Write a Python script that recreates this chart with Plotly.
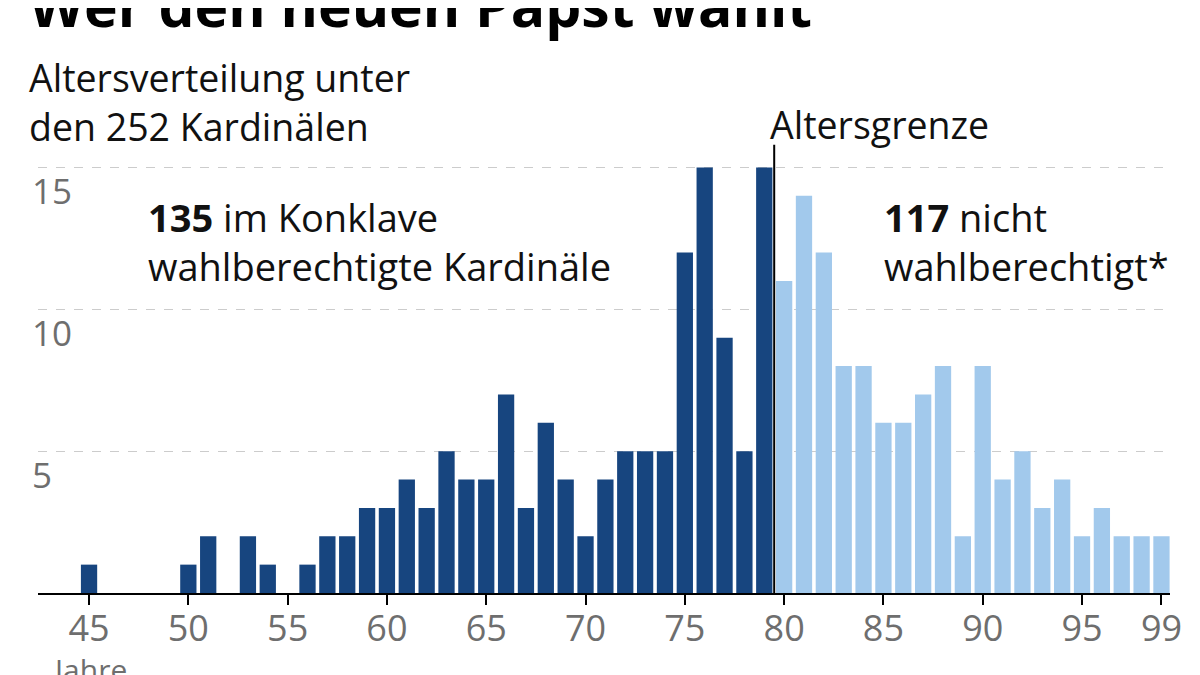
import plotly.graph_objects as go

# Kardinäle nach Alter (Stand: Konklave)
ages_voting = [45, 46, 47, 48, 49, 50, 51, 52, 53, 54, 55, 56, 57, 58, 59, 60, 61, 62,
               63, 64, 65, 66, 67, 68, 69, 70, 71, 72, 73, 74, 75, 76, 77, 78, 79]
count_voting = [1, 0, 0, 0, 0, 1, 2, 0, 2, 1, 0, 1, 2, 2, 3, 3, 4, 3,
                5, 4, 4, 7, 3, 6, 4, 2, 4, 5, 5, 5, 12, 15, 9, 5, 15]

ages_nonvoting = [80, 81, 82, 83, 84, 85, 86, 87, 88, 89,
                  90, 91, 92, 93, 94, 95, 96, 97, 98, 99]
count_nonvoting = [11, 14, 12, 8, 8, 6, 6, 7, 8, 2,
                   8, 4, 5, 3, 4, 2, 3, 2, 2, 2]

x_ticks = [45, 50, 55, 60, 65, 70, 75, 80, 85, 90, 95, 99]
y_ticks = [5, 10, 15]
age_limit = 79.5

DARK = "#17457f"
LIGHT = "#a2c9ec"
GREY = "#6e6e6e"
FONT = "Open Sans"

fig = go.Figure()
fig.add_trace(go.Bar(x=ages_voting, y=count_voting, marker=dict(color=DARK, line=dict(width=0)),
                     name="wahlberechtigt", hoverinfo="x+y"))
fig.add_trace(go.Bar(x=ages_nonvoting, y=count_nonvoting, marker=dict(color=LIGHT, line=dict(width=0)),
                     name="nicht wahlberechtigt", hoverinfo="x+y"))

# Altersgrenze
fig.add_shape(type="line", xref="x", yref="y", x0=age_limit, x1=age_limit, y0=0, y1=15.8,
              line=dict(color="black", width=2), layer="above")

ann = [
    dict(text="<b>Wer den neuen Papst wählt</b>", x=-0.010, y=1.204, xanchor="left", yanchor="bottom",
         font=dict(size=57, color="black")),
    dict(text="Altersverteilung unter<br>den 252 Kardinälen", x=-0.010, y=1.197, xanchor="left",
         yanchor="top", align="left", font=dict(size=37.5, color="#111111")),
    dict(text="Altersgrenze", x=0.6445, y=1.093, xanchor="left", yanchor="top",
         font=dict(size=37.5, color="#111111")),
    dict(text="<b>135</b> im Konklave<br>wahlberechtigte Kardinäle", x=0.095, y=0.889,
         xanchor="left", yanchor="top", align="left", font=dict(size=38, color="#111111")),
    dict(text="<b>117</b> nicht<br>wahlberechtigt*", x=0.746, y=0.889,
         xanchor="left", yanchor="top", align="left", font=dict(size=38, color="#111111")),
    dict(text="Jahre", x=45, xref="x", y=-0.118, xanchor="center", yanchor="top",
         font=dict(size=30, color=GREY)),
]
# y-Achsenbeschriftung unterhalb der Gitterlinien
for v in y_ticks:
    ann.append(dict(text=str(v), x=-0.007, y=v, yref="y", xanchor="left", yanchor="top", yshift=2,
                    font=dict(size=35, color=GREY)))
for a in ann:
    a.setdefault("xref", "paper")
    a.setdefault("yref", "paper")
    a["showarrow"] = False

fig.update_layout(
    width=1200, height=675,
    margin=dict(l=30, r=38, t=131, b=90),
    paper_bgcolor="white", plot_bgcolor="white",
    barmode="overlay", bargap=0.18,
    showlegend=False,
    font=dict(family=FONT, color="#111111"),
    annotations=ann,
    xaxis=dict(range=[42.43, 99.43], tickvals=x_ticks, ticks="outside", ticklen=10, tickwidth=2,
               tickcolor="black", showline=True, linecolor="black", linewidth=2, showgrid=False,
               zeroline=False, tickfont=dict(size=36, color=GREY), ticklabelstandoff=-7,
               automargin=False),
    yaxis=dict(range=[0, 16], tickvals=y_ticks, showticklabels=False,
               showgrid=True, gridcolor="#cccccc", griddash="dash", gridwidth=1,
               zeroline=False, showline=False, automargin=False),
)

fig.write_html("out.html")
